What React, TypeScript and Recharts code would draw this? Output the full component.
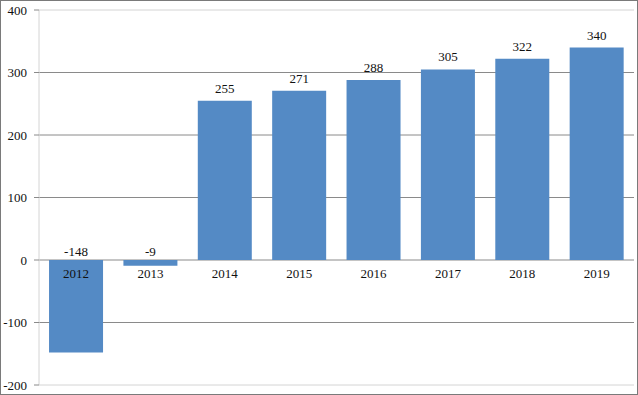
import { BarChart, Bar, XAxis, YAxis, CartesianGrid, LabelList } from "recharts";

const YEARS = ["2012", "2013", "2014", "2015", "2016", "2017", "2018", "2019"];
const VALUES = [-148, -9, 255, 271, 288, 305, 322, 340];
const Y_TICKS = [-200, -100, 0, 100, 200, 300, 400];

const FONT = "'Liberation Serif', 'Times New Roman', serif";
const BAR_COLOR = "#548AC5";
const TOP = 10;
const BOTTOM = 385;

const data = YEARS.map((year, i) => ({ year, value: VALUES[i] }));

// value sits above the bar top (or above the zero line for negatives)
const ValueLabel = (p: any) => {
  const { x, y, width, height, value } = p;
  const zero = y + height;
  const top = Math.min(y, zero);
  const ty = value < 0 ? zero - 4 : top - 8;
  return (
    <text x={x + width / 2} y={ty} textAnchor="middle" fontSize={13} fontFamily={FONT} fill="#111">
      {value}
    </text>
  );
};

// category name just under the zero line
const CategoryLabel = (p: any) => {
  const { x, y, width, height, value } = p;
  return (
    <text x={x + width / 2} y={y + height + 18} textAnchor="middle" fontSize={13} fontFamily={FONT} fill="#111">
      {value}
    </text>
  );
};

const GridLine = (p: any) => {
  const edge = p.y1 <= TOP + 1 || p.y1 >= BOTTOM - 1;
  return (
    <line
      x1={p.x1}
      y1={p.y1}
      x2={p.x2}
      y2={p.y2}
      stroke={edge ? "#d4d4d4" : "#8a8a8a"}
      strokeWidth={1}
    />
  );
};

export default function App() {
  return (
    <div style={{ position: "absolute", left: 0, top: 0, width: 638, height: 395, background: "#fff" }}>
      <BarChart
        width={638}
        height={395}
        data={data}
        margin={{ top: TOP, right: 4, bottom: 395 - BOTTOM, left: 0 }}
        barCategoryGap="13.5%"
      >
        <CartesianGrid vertical={false} horizontal={GridLine} />
        <XAxis dataKey="year" hide />
        <YAxis
          width={39}
          domain={[-200, 400]}
          ticks={Y_TICKS}
          interval={0}
          axisLine={{ stroke: "#d4d4d4" }}
          tickLine={{ stroke: "#8a8a8a" }}
          tickSize={5}
          tickMargin={7}
          tick={{ fontSize: 13, fontFamily: FONT, fill: "#111" }}
        />
        <Bar dataKey="value" fill={BAR_COLOR} isAnimationActive={false}>
          <LabelList dataKey="value" content={ValueLabel} />
          <LabelList dataKey="year" content={CategoryLabel} />
        </Bar>
      </BarChart>
      <div
        style={{
          position: "absolute",
          left: 0,
          top: 0,
          width: 638,
          height: 395,
          boxSizing: "border-box",
          border: "1px solid #7a7a7a",
          pointerEvents: "none",
        }}
      />
    </div>
  );
}
